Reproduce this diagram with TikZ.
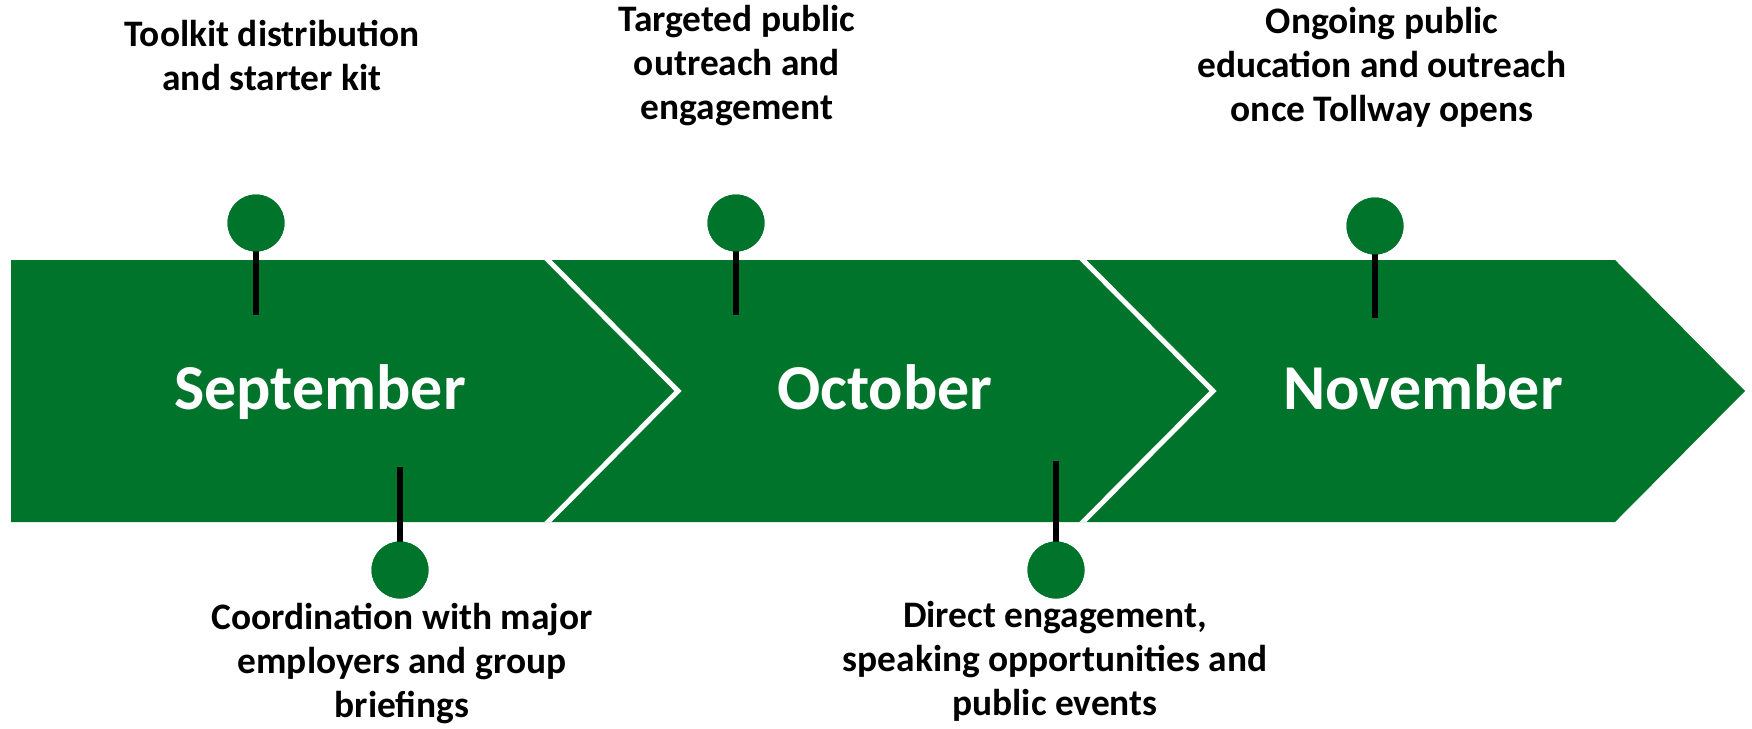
\documentclass[tikz,border=0pt]{standalone}
\usepackage{fontspec}
\setmainfont{Carlito}
\definecolor{tlgreen}{RGB}{0,116,42}
\begin{document}
\begin{tikzpicture}[x=1pt,y=-1pt,
  dot/.style={circle,fill=tlgreen,minimum size=57pt,inner sep=0pt},
  stem/.style={line width=6pt,black},
  month/.style={anchor=base,inner sep=0pt,text=white,font=\fontsize{64}{77}\selectfont\bfseries},
  label/.style={inner sep=0pt,align=center,text=black,font=\fontsize{37.4}{44}\selectfont\bfseries},
  sep/.style={line width=5pt,white,line join=miter}]
\useasboundingbox (0,0) rectangle (1752,728);
% band
\path[fill=tlgreen] (11,260) -- (1615,260) -- (1745,391) -- (1615,522) -- (11,522) -- cycle;
\begin{scope}
\clip (11,260) -- (1615,260) -- (1745,391) -- (1615,522) -- (11,522) -- cycle;
\draw[sep] (538,250) -- (678,391) -- (538,532);
\draw[sep] (1073,250) -- (1213,391) -- (1073,532);
\end{scope}
% months
\node[month] (sep) at (320,409) {September};
\node[month] (oct) at (885,409) {October};
\node[month] (nov) at (1423,409) {November};
% end points of stems
\coordinate (e1) at (256,315);
\coordinate (e2) at (736,315);
\coordinate (e3) at (1375,318);
\coordinate (e4) at (400,467);
\coordinate (e5) at (1056,461);
% dots
\node[dot] (d1) at (256,223) {};
\node[dot] (d2) at (736,223) {};
\node[dot] (d3) at (1375,226) {};
\node[dot] (d4) at (400,570) {};
\node[dot] (d5) at (1056,570) {};
\draw[stem] (d1.center) -- (e1);
\draw[stem] (d2.center) -- (e2);
\draw[stem] (d3.center) -- (e3);
\draw[stem] (d4.center) -- (e4);
\draw[stem] (d5.center) -- (e5);
\node[dot] at (d1) {};
\node[dot] at (d2) {};
\node[dot] at (d3) {};
\node[dot] at (d4) {};
\node[dot] at (d5) {};
% labels
\node[label,anchor=north] (l1) at (272,20) {Toolkit distribution\\and starter kit};
\node[label,anchor=north] (l2) at (737,5) {Targeted public\\outreach and\\engagement};
\node[label,anchor=north] (l3) at (1382,7) {Ongoing public\\education and outreach\\once Tollway opens};
\node[label,anchor=north] (l4) at (402,603) {Coordination with major\\employers and group\\briefings};
\node[label,anchor=north] (l5) at (1055,601) {Direct engagement,\\speaking opportunities and\\public events};
\end{tikzpicture}
\end{document}
